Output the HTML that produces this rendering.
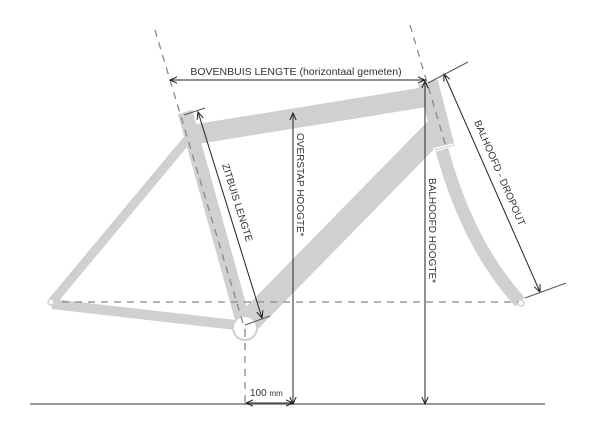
<!DOCTYPE html>
<html><head><meta charset="utf-8"><style>
html,body{margin:0;padding:0;background:#fff;}
svg{display:block;}
text{font-family:"Liberation Sans",sans-serif;fill:#333;}
</style></head><body>
<svg width="600" height="431" viewBox="0 0 600 431" xmlns="http://www.w3.org/2000/svg">
<defs>
<marker id="a" viewBox="0 0 10 10" refX="9" refY="5" markerWidth="8" markerHeight="8" orient="auto-start-reverse" markerUnits="userSpaceOnUse">
<path d="M0,1 L9,5 L0,9" fill="none" stroke="#222" stroke-width="1.3"/>
</marker>
</defs>
<g stroke="#d0d0d0" stroke-linecap="butt" fill="none">
<line x1="52" y1="304" x2="244" y2="326" stroke-width="10"/>
<line x1="52" y1="302" x2="187" y2="140" stroke-width="9"/>
<line x1="185" y1="112" x2="245" y2="328" stroke-width="15"/>
<line x1="185" y1="136" x2="432" y2="96" stroke-width="20"/>
<line x1="438" y1="128" x2="248" y2="322" stroke-width="24"/>
<path d="M428,82 L445,148" stroke-width="20"/>
<path d="M442,150 Q468,245 520,302" stroke-width="13"/>
</g>
<line x1="433" y1="149" x2="454" y2="144" stroke="#fff" stroke-width="1.5"/>
<circle cx="245" cy="328" r="12" fill="#fff" stroke="#d0d0d0" stroke-width="2"/>
<circle cx="51" cy="302" r="3" fill="#fff" stroke="#d0d0d0" stroke-width="1.5"/>
<circle cx="521" cy="303" r="3" fill="#fff" stroke="#d0d0d0" stroke-width="1.5"/>
<g stroke="#888" stroke-width="1.3" stroke-dasharray="7,6" fill="none">
<line x1="155" y1="30" x2="245" y2="330"/>
<line x1="245" y1="330" x2="245" y2="404"/>
<line x1="410" y1="25" x2="447" y2="150"/>
<line x1="62" y1="302" x2="518" y2="302"/>
</g>
<line x1="30" y1="404" x2="545" y2="404" stroke="#777" stroke-width="1.5"/>
<g stroke="#222" stroke-width="1" fill="none">
<line x1="170" y1="80" x2="425" y2="80" marker-start="url(#a)" marker-end="url(#a)"/>
<line x1="293" y1="113" x2="293" y2="404" marker-start="url(#a)" marker-end="url(#a)"/>
<line x1="425" y1="81" x2="425" y2="404" marker-start="url(#a)" marker-end="url(#a)"/>
<line x1="198" y1="112" x2="262" y2="318" marker-start="url(#a)" marker-end="url(#a)"/>
<line x1="444" y1="74" x2="540" y2="292" marker-start="url(#a)" marker-end="url(#a)"/>
<line x1="246" y1="403" x2="293" y2="403" marker-start="url(#a)" marker-end="url(#a)"/>
<g stroke="#555">
<line x1="184" y1="115" x2="205" y2="108"/>
<line x1="245" y1="325" x2="270" y2="316"/>
<line x1="428" y1="83" x2="468" y2="62"/>
<line x1="525" y1="298" x2="566" y2="283"/>
</g>
</g>
<text x="296" y="75" font-size="10.5" text-anchor="middle">BOVENBUIS LENGTE  (horizontaal gemeten)</text>
<text transform="translate(222,165) rotate(72.5)" font-size="10">ZITBUIS LENGTE</text>
<text transform="translate(297,133) rotate(90)" font-size="10">OVERSTAP HOOGTE*</text>
<text transform="translate(429,178) rotate(90)" font-size="10">BALHOOFD HOOGTE*</text>
<text transform="translate(474,122) rotate(66.5)" font-size="10">BALHOOFD - DROPOUT</text>
<text x="250" y="396" font-size="10">100 <tspan font-size="8">mm</tspan></text>
</svg>
</body></html>
